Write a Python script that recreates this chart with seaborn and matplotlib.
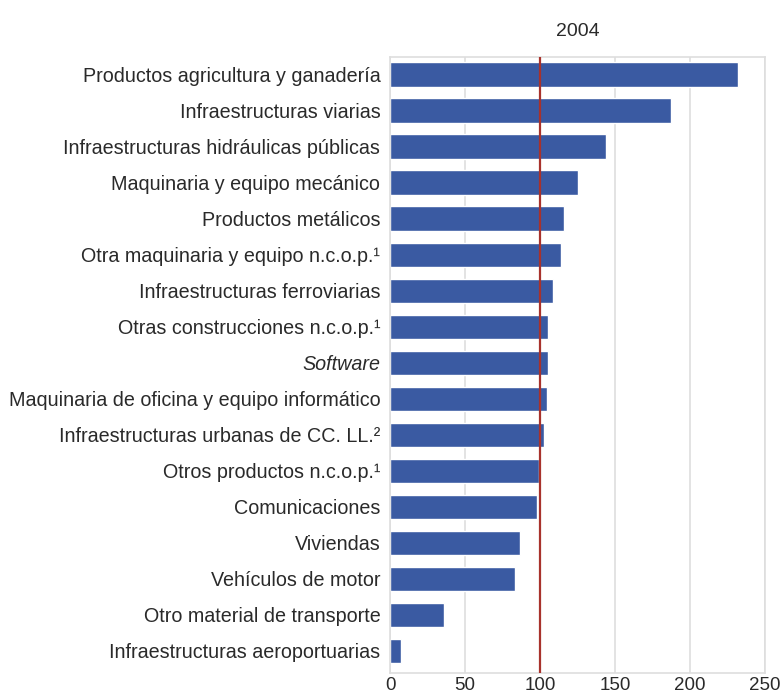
import matplotlib
matplotlib.use("Agg")
import matplotlib.pyplot as plt
import seaborn as sns
import pandas as pd

# productos y valores (indice, 2004)
productos = [
    "Productos agricultura y ganadería",
    "Infraestructuras viarias",
    "Infraestructuras hidráulicas públicas",
    "Maquinaria y equipo mecánico",
    "Productos metálicos",
    "Otra maquinaria y equipo n.c.o.p.¹",
    "Infraestructuras ferroviarias",
    "Otras construcciones n.c.o.p.¹",
    "Software",
    "Maquinaria de oficina y equipo informático",
    "Infraestructuras urbanas de CC. LL.²",
    "Otros productos n.c.o.p.¹",
    "Comunicaciones",
    "Viviendas",
    "Vehículos de motor",
    "Otro material de transporte",
    "Infraestructuras aeroportuarias",
]
valores = [232, 187, 144, 125, 116, 114, 108.7, 105.6, 105.5, 104.4,
           102.4, 99.6, 98.2, 86.9, 83.3, 36.2, 7.1]
x_ticks = [0, 50, 100, 150, 200, 250]
referencia = 100
titulo = "2004"

df = pd.DataFrame({"producto": productos, "valor": valores})

sns.set_style("white")
plt.rcParams["font.family"] = ["Liberation Sans", "DejaVu Sans"]

fig = plt.figure(figsize=(7.8, 6.97), dpi=100)
ax = fig.add_axes([0.5, 0.0340, 0.4808, 0.8842])

sns.barplot(data=df, x="valor", y="producto", orient="h", color="#3a5aa2",
            saturation=1, width=0.68, ax=ax, zorder=2)

ax.axvline(referencia, color="#a8322c", lw=1.6, zorder=3)
ax.set_xlim(0, 250)
ax.set_ylim(16.62, -0.49)
ax.set_xticks(x_ticks)
ax.xaxis.grid(True, color="#dedede", lw=1.2, zorder=0)
ax.set_axisbelow(True)
for s in ax.spines.values():
    s.set_color("#dedede")
    s.set_linewidth(1.2)

ax.set_xlabel("")
ax.set_ylabel("")
ax.tick_params(axis="both", length=0)
ax.tick_params(axis="y", pad=7, labelsize=14.2, labelcolor="#2a2a2a")
ax.tick_params(axis="x", pad=3, labelsize=13.5, labelcolor="#2a2a2a")
for lbl in ax.get_yticklabels():
    if lbl.get_text() == "Software":
        lbl.set_fontstyle("italic")

ax.set_title(titulo, fontsize=14, color="#2a2a2a", pad=15)

fig.savefig("out.png", dpi=100, facecolor="white")
